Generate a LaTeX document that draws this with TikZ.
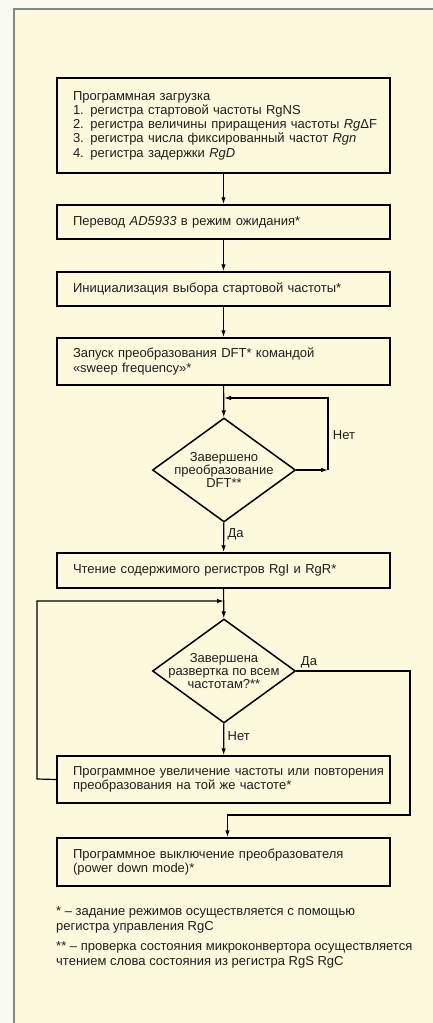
\documentclass[tikz,border=0pt]{standalone}
\usepackage{fontspec}
\setmainfont{Liberation Sans}
\usetikzlibrary{arrows.meta,shapes.geometric}

\definecolor{paper}{RGB}{252,249,221}
\definecolor{margin}{RGB}{251,250,238}
\definecolor{frame}{RGB}{128,136,136}
\definecolor{ink}{RGB}{30,30,30}

\tikzset{
  stepbox/.style={draw, line width=1.5pt, rectangle, minimum width=333pt,
    text width=321pt, inner xsep=6pt, align=left, text=ink,
    execute at begin node={\leftskip=10pt},
    font=\fontsize{13}{14.3}\selectfont},
  testbox/.style={draw, line width=1.5pt, diamond, minimum width=143pt,
    minimum height=104pt, aspect=1.375, inner sep=-8pt, align=center,
    text=ink, font=\fontsize{13}{13.3}\selectfont},
  flow/.style={line width=1.2pt, -{Latex[length=7pt,width=4.5pt]}},
  answer/.style={text=ink, font=\fontsize{13}{14}\selectfont},
  note/.style={text=ink, anchor=north west, inner sep=0pt, align=left,
    font=\fontsize{13}{15}\selectfont}
}

\begin{document}
\begin{tikzpicture}[x=1pt,y=-1pt]
\useasboundingbox (0,0) rectangle (433,1023);
\fill[margin] (0,0) rectangle (433,1023);
\fill[paper] (14,9) rectangle (433,1023);
\draw[frame, line width=1.5pt] (14,1023) -- (14,9) -- (433,9);

% steps and tests
\node[stepbox, minimum height=95pt] (load) at (223.5,125.5)
  {Программная загрузка\\
   1. регистра стартовой частоты RgNS\\
   2. регистра величины приращения частоты \textit{Rg}ΔF\\
   3. регистра числа фиксированный частот \textit{Rgn}\\
   4. регистра задержки \textit{RgD}};
\node[stepbox, minimum height=34pt] (standby) at (223.5,222)
  {Перевод \textit{AD5933} в режим ожидания*};
\node[stepbox, minimum height=34pt] (init) at (223.5,289)
  {Инициализация выбора стартовой частоты*};
\node[stepbox, minimum height=47pt] (start) at (223.5,361.5)
  {Запуск преобразования DFT* командой\\«sweep frequency»*};
\node[testbox] (done) at (224,470)
  {Завершено\\преобразование\\DFT**};
\node[stepbox, minimum height=35pt] (read) at (223.5,570.5)
  {Чтение содержимого регистров RgI и RgR*};
\node[testbox] (swept) at (224,671)
  {Завершена\\развертка по всем\\частотам?**};
\node[stepbox, minimum height=47pt] (next) at (223.5,779.5)
  {Программное увеличение частоты или повторения\\преобразования на той же частоте*};
\node[stepbox, minimum height=48pt] (off) at (223.5,862)
  {Программное выключение преобразователя\\(power down mode)*};

% corner points of the loops
\coordinate (join1) at (224,398);
\coordinate (wait) at (328,470);
\coordinate (join2) at (224,601);
\coordinate (back) at (37,779);
\coordinate (exit) at (410,815);

% connectors
\draw[flow] (load) -- (standby);
\draw[flow] (standby) -- (init);
\draw[flow] (init) -- (start);
\draw[flow] (start) -- (done);
\draw[flow] (done.east) -- (wait);
\draw[flow] (wait) |- (join1);
\draw[flow] (done) -- (read) node[answer, pos=0.4, right] {Да};
\draw[flow] (read) -- (swept);
\draw[flow] (swept) -- (next) node[answer, pos=0.4, right] {Нет};
\draw[flow] (next.west) -- (back) |- (join2);
\draw[flow] (swept.east) -| (exit) -| ([xshift=4pt]off.north);
\node[answer] at (344,435) {Нет};
\node[answer] at (309,662) {Да};

% footnotes
\node[note] (note1) at (56,906)
  {* – задание режимов осуществляется с помощью\\регистра управления RgC};
\node[note] (note2) at (56,941)
  {** – проверка состояния микроконвертора осуществляется\\чтением слова состояния из регистра RgS RgC};
\end{tikzpicture}
\end{document}
